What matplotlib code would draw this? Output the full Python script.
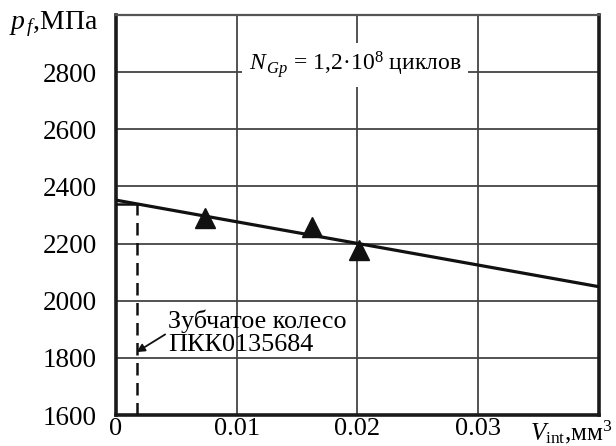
import matplotlib
matplotlib.use("Agg")
import matplotlib.pyplot as plt
import numpy as np

plt.rcParams['font.family'] = ['Liberation Serif', 'DejaVu Serif']
plt.rcParams['mathtext.fontset'] = 'custom'
plt.rcParams['mathtext.rm'] = 'Liberation Serif'
plt.rcParams['mathtext.it'] = 'Liberation Serif:italic'

# Data
v_points = [0.0074, 0.0162, 0.0201]
pf_points = [2291, 2259, 2179]
line_x = [0.0, 0.04]
line_y = [2352, 2049]
gear_x = 0.0017
gear_pf = 2339
x_ticks = [0, 0.01, 0.02, 0.03]
x_tick_labels = ['0', '0.01', '0.02', '0.03']
y_ticks = [1600, 1800, 2000, 2200, 2400, 2600, 2800]
y_tick_labels = ['1600', '1800', '2000', '2200', '2400', '2600', '2800']

fig = plt.figure(figsize=(6.16, 4.46), dpi=100)
ax = fig.add_axes([0.1883, 0.0695, 0.9724 - 0.1883, 0.9664 - 0.0695])
ax.set_xlim(0, 0.04)
ax.set_ylim(1600, 3000)

# grid
for xv in [0.01, 0.02, 0.03]:
    ax.axvline(xv, color='#444444', lw=1.3, zorder=1)
for yv in [1800, 2000, 2200, 2400, 2600, 2800]:
    ax.axhline(yv, color='#444444', lw=1.3, zorder=1)

ax.set_xticks(x_ticks)
ax.set_xticklabels(x_tick_labels)
ax.set_yticks(y_ticks)
ax.set_yticklabels(y_tick_labels)
ax.tick_params(length=0, labelsize=19.5)
ax.tick_params(axis='y', pad=14)
ax.tick_params(axis='x', pad=2, labelsize=19)

for s in ['left', 'bottom', 'right']:
    ax.spines[s].set_linewidth(2.6)
    ax.spines[s].set_color('#1a1a1a')
ax.spines['top'].set_linewidth(1.6)
ax.spines['top'].set_color('#555555')

# main line
ax.plot(line_x, line_y, color='#111111', lw=2.3, zorder=3, solid_capstyle='butt')
# points
ax.plot(v_points, pf_points, linestyle='none', marker='^', markersize=14,
        color='#111111', zorder=4)
# gear dashed line
ax.plot([gear_x, gear_x], [1600, gear_pf], color='#111111', lw=1.8,
        dashes=(5, 3), zorder=3)
ax.plot([0, gear_x], [gear_pf, gear_pf], color='#111111', lw=1.8, zorder=3)

ax.annotate('Зубчатое колесо\nПКК0135684', xy=(gear_x, 1820), xytext=(0.0043, 1888),
            fontsize=18.8, va='center', ha='left', linespacing=1.05,
            arrowprops=dict(arrowstyle='-|>', color='#111111', lw=1.3,
                            mutation_scale=12, shrinkA=0, shrinkB=0,
                            relpos=(0, 0.5)),
            zorder=5)

ax.text(0.0198, 2825, r'$N_{\,Gp}$ = 1,2·10$^{8}$ циклов', fontsize=17,
        ha='center', va='center',
        bbox=dict(facecolor='white', edgecolor='none', pad=5), zorder=5)

fig.text(0.015, 0.945, r'$p_{\,f}$,МПа', fontsize=20, ha='left', va='center')
fig.text(0.995, 0.03, r'$V_{\rm int}$,мм$^3$', fontsize=18, ha='right', va='center')

fig.savefig('out.png', dpi=100)
